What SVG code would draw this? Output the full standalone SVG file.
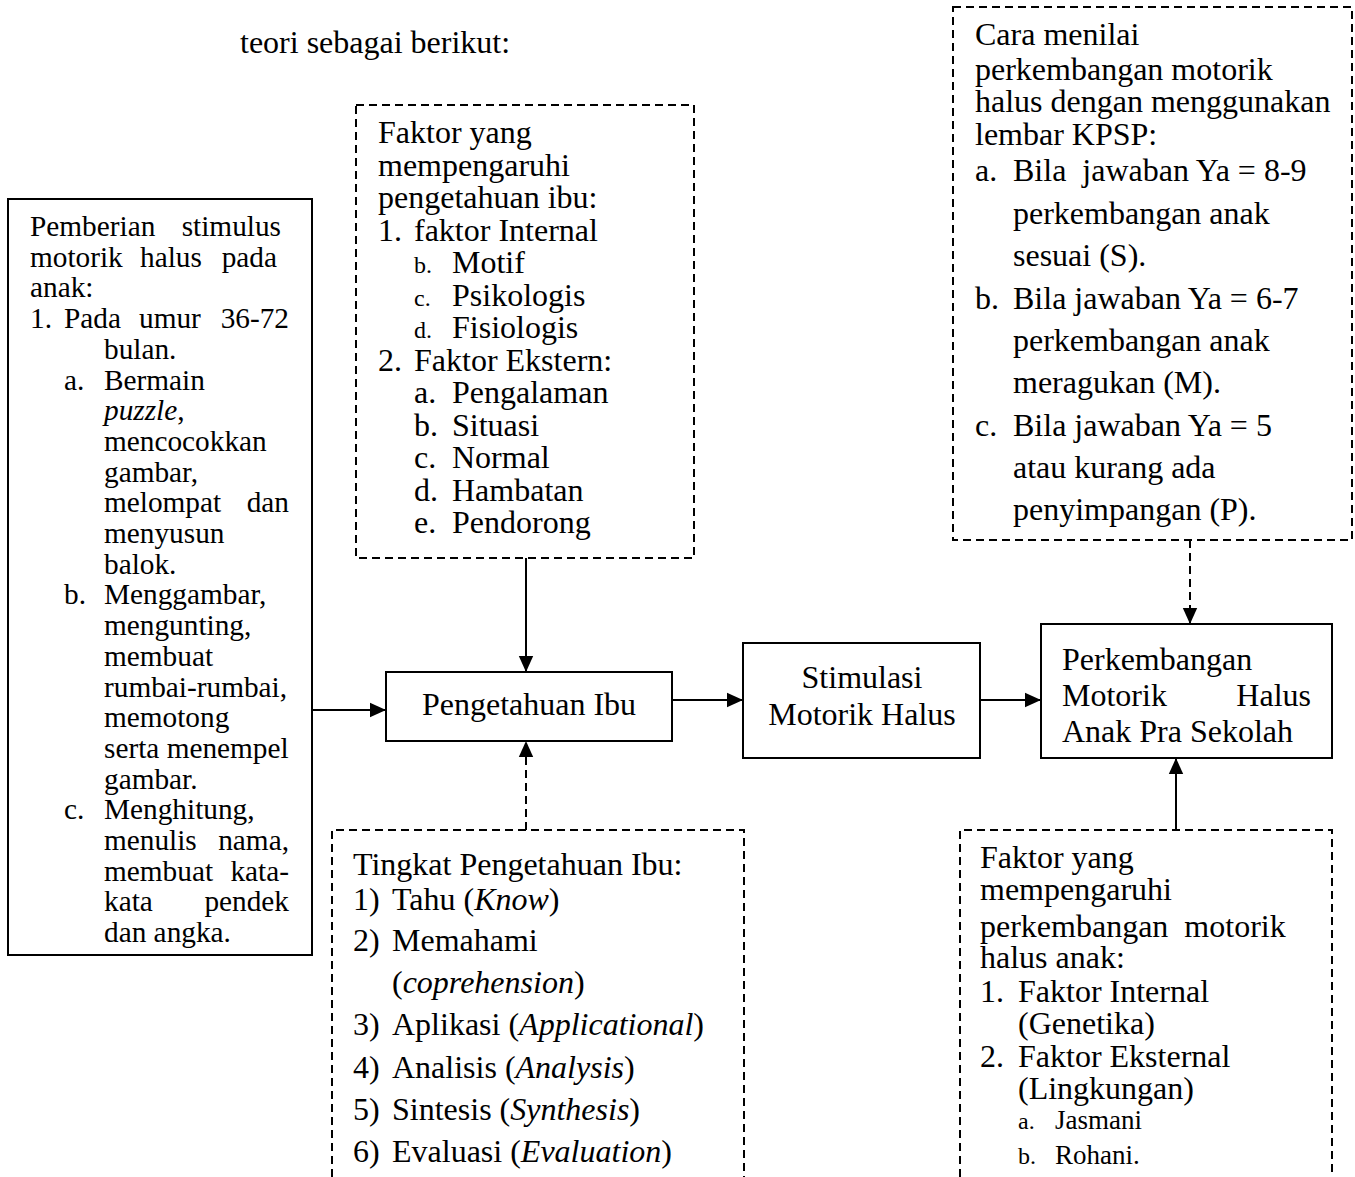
<svg xmlns="http://www.w3.org/2000/svg" width="1355" height="1177" viewBox="0 0 1355 1177">
<defs>
<style>
text{font-family:"Liberation Serif","Times New Roman",serif;font-size:32px;fill:#000}
.l{font-size:29.3px}
.s{font-size:24px}
.m{font-size:27px}
.e{text-anchor:end}
.c{text-anchor:middle}
.box{fill:#fff;stroke:#000;stroke-width:2}
.dbox{fill:none;stroke:#000;stroke-width:2;stroke-dasharray:8 5}
.con{fill:none;stroke:#000;stroke-width:2}
.dash{stroke-dasharray:8 5}
</style>
<marker id="ahb" viewBox="0 0 10 10" refX="10" refY="5" markerWidth="16" markerHeight="16" markerUnits="userSpaceOnUse" orient="auto">
<path d="M0,0.5 L10,5 L0,9.5 z" fill="#000"/>
</marker>
</defs>
<rect width="1355" height="1177" fill="#fff"/>
<text x="240" y="53">teori sebagai berikut:</text>

<g id="stimulus-box">
<rect class="box" x="8" y="199" width="304" height="756"/>
<text class="l" x="30" y="236">Pemberian</text><text class="l e" x="281" y="236">stimulus</text>
<text class="l" x="30" y="266.7">motorik</text><text class="l" x="140" y="266.7">halus</text><text class="l e" x="277" y="266.7">pada</text>
<text class="l" x="30" y="297.4">anak:</text>
<text class="l" x="30" y="328.1">1.</text><text class="l" x="64" y="328.1">Pada</text><text class="l" x="139" y="328.1">umur</text><text class="l e" x="289" y="328.1">36-72</text>
<text class="l" x="104" y="358.8">bulan.</text>
<text class="l" x="64" y="389.5">a.</text><text class="l" x="104" y="389.5">Bermain</text>
<text class="l" x="104" y="420.2"><tspan font-style="italic">puzzle</tspan>,</text>
<text class="l" x="104" y="450.9">mencocokkan</text>
<text class="l" x="104" y="481.6">gambar,</text>
<text class="l" x="104" y="512.3">melompat</text><text class="l e" x="289" y="512.3">dan</text>
<text class="l" x="104" y="543">menyusun</text>
<text class="l" x="104" y="573.7">balok.</text>
<text class="l" x="64" y="604.4">b.</text><text class="l" x="104" y="604.4">Menggambar,</text>
<text class="l" x="104" y="635.1">mengunting,</text>
<text class="l" x="104" y="665.8">membuat</text>
<text class="l" x="104" y="696.5">rumbai-rumbai,</text>
<text class="l" x="104" y="727.2">memotong</text>
<text class="l" x="104" y="757.9">serta menempel</text>
<text class="l" x="104" y="788.6">gambar.</text>
<text class="l" x="64" y="819.3">c.</text><text class="l" x="104" y="819.3">Menghitung,</text>
<text class="l" x="104" y="850">menulis</text><text class="l e" x="289" y="850">nama,</text>
<text class="l" x="104" y="880.7">membuat</text><text class="l e" x="289" y="880.7">kata-</text>
<text class="l" x="104" y="911.4">kata</text><text class="l e" x="289" y="911.4">pendek</text>
<text class="l" x="104" y="942.1">dan angka.</text>
</g>

<g id="faktor-pengetahuan">
<rect class="dbox" x="356" y="105" width="338" height="453"/>
<text x="378" y="143">Faktor yang</text>
<text x="378" y="175.5">mempengaruhi</text>
<text x="378" y="208">pengetahuan ibu:</text>
<text x="378" y="240.5">1.</text><text x="414" y="240.5">faktor Internal</text>
<text class="s" x="414" y="273">b.</text><text x="452" y="273">Motif</text>
<text class="s" x="414" y="305.5">c.</text><text x="452" y="305.5">Psikologis</text>
<text class="s" x="414" y="338">d.</text><text x="452" y="338">Fisiologis</text>
<text x="378" y="370.5">2.</text><text x="414" y="370.5">Faktor Ekstern:</text>
<text x="414" y="403">a.</text><text x="452" y="403">Pengalaman</text>
<text x="414" y="435.5">b.</text><text x="452" y="435.5">Situasi</text>
<text x="414" y="468">c.</text><text x="452" y="468">Normal</text>
<text x="414" y="500.5">d.</text><text x="452" y="500.5">Hambatan</text>
<text x="414" y="533">e.</text><text x="452" y="533">Pendorong</text>
</g>

<g id="cara-menilai">
<rect class="dbox" x="953" y="7" width="399" height="533"/>
<text x="975" y="45">Cara menilai</text>
<text x="975" y="80">perkembangan motorik</text>
<text x="975" y="112">halus dengan menggunakan</text>
<text x="975" y="145">lembar KPSP:</text>
<text x="975" y="181">a.</text><text x="1013" y="181" xml:space="preserve">Bila  jawaban Ya = 8-9</text>
<text x="1013" y="223.5">perkembangan anak</text>
<text x="1013" y="266">sesuai (S).</text>
<text x="975" y="308.5">b.</text><text x="1013" y="308.5">Bila jawaban Ya = 6-7</text>
<text x="1013" y="351">perkembangan anak</text>
<text x="1013" y="393">meragukan (M).</text>
<text x="975" y="436">c.</text><text x="1013" y="436">Bila jawaban Ya = 5</text>
<text x="1013" y="478">atau kurang ada</text>
<text x="1013" y="520">penyimpangan (P).</text>
</g>

<g id="pengetahuan-ibu">
<rect class="box" x="386" y="672" width="286" height="69"/>
<text class="c" x="529" y="715">Pengetahuan Ibu</text>
</g>

<g id="stimulasi">
<rect class="box" x="743" y="643" width="237" height="115"/>
<text class="c" x="862" y="688">Stimulasi</text>
<text class="c" x="862" y="725">Motorik Halus</text>
</g>

<g id="perkembangan">
<rect class="box" x="1041" y="624" width="291" height="134"/>
<text x="1062" y="670">Perkembangan</text>
<text x="1062" y="706">Motorik</text><text class="e" x="1311" y="706">Halus</text>
<text x="1062" y="742">Anak Pra Sekolah</text>
</g>

<g id="tingkat-pengetahuan">
<path class="dbox" d="M332,1177 V830 H744 V1177"/>
<text x="353" y="875">Tingkat Pengetahuan Ibu:</text>
<text x="353" y="910">1)</text><text x="392" y="910">Tahu (<tspan font-style="italic">Know</tspan>)</text>
<text x="353" y="951">2)</text><text x="392" y="951">Memahami</text>
<text x="392" y="993">(<tspan font-style="italic">coprehension</tspan>)</text>
<text x="353" y="1035">3)</text><text x="392" y="1035">Aplikasi (<tspan font-style="italic">Applicational</tspan>)</text>
<text x="353" y="1078">4)</text><text x="392" y="1078">Analisis (<tspan font-style="italic">Analysis</tspan>)</text>
<text x="353" y="1120">5)</text><text x="392" y="1120">Sintesis (<tspan font-style="italic">Synthesis</tspan>)</text>
<text x="353" y="1162">6)</text><text x="392" y="1162">Evaluasi (<tspan font-style="italic">Evaluation</tspan>)</text>
</g>

<g id="faktor-perkembangan">
<path class="dbox" d="M960,1177 V830 H1332 V1177"/>
<text x="980" y="868">Faktor yang</text>
<text x="980" y="900">mempengaruhi</text>
<text x="980" y="937" xml:space="preserve">perkembangan  motorik</text>
<text x="980" y="968">halus anak:</text>
<text x="980" y="1002">1.</text><text x="1018" y="1002">Faktor Internal</text>
<text x="1018" y="1034">(Genetika)</text>
<text x="980" y="1067">2.</text><text x="1018" y="1067">Faktor Eksternal</text>
<text x="1018" y="1099">(Lingkungan)</text>
<text class="s" x="1018" y="1129">a.</text><text class="m" x="1055" y="1129">Jasmani</text>
<text class="s" x="1018" y="1164">b.</text><text class="m" x="1055" y="1164">Rohani.</text>
</g>

<g id="connectors">
<line class="con" x1="312" y1="710" x2="386" y2="710" marker-end="url(#ahb)"/>
<line class="con" x1="526" y1="558" x2="526" y2="672" marker-end="url(#ahb)"/>
<line class="con dash" x1="526" y1="830" x2="526" y2="741" marker-end="url(#ahb)"/>
<line class="con" x1="672" y1="700" x2="743" y2="700" marker-end="url(#ahb)"/>
<line class="con" x1="980" y1="700" x2="1041" y2="700" marker-end="url(#ahb)"/>
<line class="con dash" x1="1190" y1="540" x2="1190" y2="624" marker-end="url(#ahb)"/>
<line class="con" x1="1176" y1="830" x2="1176" y2="758" marker-end="url(#ahb)"/>
</g>
</svg>
